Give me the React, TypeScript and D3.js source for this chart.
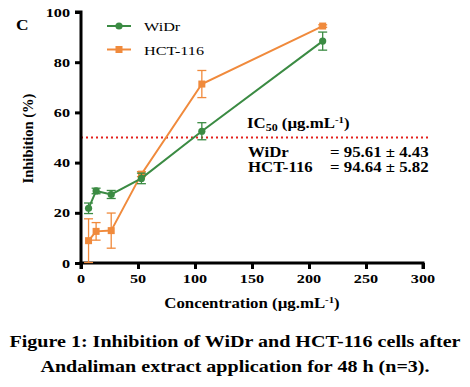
import React, { useEffect, useRef } from "react";
import * as d3 from "d3";

// concentrations (µg/mL)
const concentrations = [6.625, 13.25, 26.5, 53, 106, 212];
const widrMean = [21.8, 28.7, 27.3, 33.7, 52.5, 88.4];
const widrErr = [2.1, 1.1, 1.6, 2.1, 3.4, 3.6];
const hctMean = [8.9, 12.6, 12.9, 35.4, 71.3, 94.4];
const hctErr = [8.7, 3.5, 7.0, 1.0, 5.4, 0.5];
const xTicks = [0, 50, 100, 150, 200, 250, 300];
const yTicks = [0, 20, 40, 60, 80, 100];
const ic50Rows = [
    { name: "WiDr", value: "= 95.61 ± 4.43" },
    { name: "HCT-116", value: "= 94.64 ± 5.82" },
];
const caption = [
    "Figure 1: Inhibition of WiDr and HCT-116 cells after",
    "Andaliman extract application for 48 h (n=3).",
];

const GREEN = "#3b8b43";
const ORANGE = "#f08a3c";
const RED = "#e3211c";
const FONT = "'Liberation Serif', 'Times New Roman', serif";
const SX = 1.2; // the source picture is stretched sideways

const App = () => {
    const ref = useRef<SVGSVGElement | null>(null);

    useEffect(() => {
        const svg = d3.select(ref.current);
        svg.selectAll("*").remove();

        // text helper, stretched horizontally like the original
        const label = (px: number, py: number, size: number, anchor = "start", bold = true, sx = SX) =>
            svg.append("text")
                .attr("transform", `translate(${px},${py}) scale(${sx},1)`)
                .attr("text-anchor", anchor)
                .attr("fill", "#000")
                .style("font-family", FONT)
                .style("font-weight", bold ? "bold" : "normal")
                .style("font-size", size + "px");

        const x = d3.scaleLinear().domain([0, 300]).range([81, 423]);
        const y = d3.scaleLinear().domain([0, 100]).range([263, 12]);

        // reference line at 50 %
        svg.append("line")
            .attr("x1", x(0)).attr("x2", 431)
            .attr("y1", y(50)).attr("y2", y(50))
            .attr("stroke", RED)
            .attr("stroke-width", 2.2)
            .attr("stroke-dasharray", "2,3");

        // axes
        const yAxis = svg.append("g")
            .attr("transform", `translate(${x(0)},0)`)
            .call(d3.axisLeft(y).tickValues(yTicks).tickSize(6).tickFormat(() => ""));
        const xAxis = svg.append("g")
            .attr("transform", `translate(0,${y(0)})`)
            .call(d3.axisBottom(x).tickValues(xTicks).tickSize(6).tickFormat(() => ""));

        [xAxis, yAxis].forEach(g => {
            g.select(".domain").attr("stroke", "#000").attr("stroke-width", 3);
            g.selectAll(".tick line").attr("stroke", "#000").attr("stroke-width", 3);
        });
        yAxis.select(".domain").attr("d", `M-6,${y(100)}H0V${y(0)}`);
        xAxis.select(".domain").attr("d", `M${x(0)},6V0H${x(300)}V6`);

        // tick labels
        yTicks.forEach(t => label(70, y(t) + 4.5, 13.5, "end").text(String(t)));
        xTicks.forEach(t => label(x(t), 283, 13.5, "middle").text(String(t)));

        const drawSeries = (mean: number[], err: number[], color: string, square: boolean) => {
            const pts = concentrations.map((c, i) => ({ c, m: mean[i], e: err[i] }));
            const g = svg.append("g");
            // error bars
            pts.forEach(p => {
                const lo = Math.max(0, p.m - p.e);
                const hi = p.m + p.e;
                g.append("line")
                    .attr("x1", x(p.c)).attr("x2", x(p.c))
                    .attr("y1", y(lo)).attr("y2", y(hi))
                    .attr("stroke", color).attr("stroke-width", 1.3);
                g.append("line")
                    .attr("x1", x(p.c) - 4.5).attr("x2", x(p.c) + 4.5)
                    .attr("y1", y(hi)).attr("y2", y(hi))
                    .attr("stroke", color).attr("stroke-width", 1.3);
                if (p.m - p.e > 0) {
                    g.append("line")
                        .attr("x1", x(p.c) - 4.5).attr("x2", x(p.c) + 4.5)
                        .attr("y1", y(lo)).attr("y2", y(lo))
                        .attr("stroke", color).attr("stroke-width", 1.3);
                }
            });
            const line = d3.line<any>().x(d => x(d.c)).y(d => y(d.m));
            g.append("path")
                .datum(pts)
                .attr("d", line)
                .attr("fill", "none")
                .attr("stroke", color)
                .attr("stroke-width", 2);
            if (square) {
                g.selectAll("rect.pt").data(pts).enter().append("rect")
                    .attr("x", d => x(d.c) - 3.5).attr("y", d => y(d.m) - 3.5)
                    .attr("width", 7).attr("height", 7)
                    .attr("fill", color);
            } else {
                g.selectAll("circle.pt").data(pts).enter().append("circle")
                    .attr("cx", d => x(d.c)).attr("cy", d => y(d.m))
                    .attr("r", 3.6)
                    .attr("fill", color);
            }
        };

        drawSeries(hctMean, hctErr, ORANGE, true);
        drawSeries(widrMean, widrErr, GREEN, false);

        // legend
        const legend = [
            { label: "WiDr", color: GREEN, square: false, yy: 26 },
            { label: "HCT-116", color: ORANGE, square: true, yy: 49.5 },
        ];
        legend.forEach(l => {
            svg.append("line")
                .attr("x1", 107).attr("x2", 131)
                .attr("y1", l.yy).attr("y2", l.yy)
                .attr("stroke", l.color).attr("stroke-width", 2);
            if (l.square) {
                svg.append("rect").attr("x", 115.5).attr("y", l.yy - 3.5)
                    .attr("width", 7).attr("height", 7).attr("fill", l.color);
            } else {
                svg.append("circle").attr("cx", 119).attr("cy", l.yy).attr("r", 3.6).attr("fill", l.color);
            }
            label(144, l.yy + 5, 13.5, "start", false).text(l.label);
        });

        // panel letter
        label(16, 30, 14.5).text("C");

        // axis titles
        svg.append("text")
            .attr("transform", `translate(33,${y(50) + 1}) rotate(-90)`)
            .attr("text-anchor", "middle")
            .style("font-family", FONT).style("font-weight", "bold").style("font-size", "14.5px")
            .text("Inhibition (%)");

        const xt = label(x(150), 308, 14, "middle");
        xt.append("tspan").text("Concentration (µg.mL");
        xt.append("tspan").attr("dy", -5).style("font-size", "9px").text("-1");
        xt.append("tspan").attr("dy", 5).text(")");

        // IC50 annotation
        const ic = label(247, 128, 14);
        ic.append("tspan").text("IC");
        ic.append("tspan").attr("dy", 3).style("font-size", "10px").text("50");
        ic.append("tspan").attr("dy", -3).text(" (µg.mL");
        ic.append("tspan").attr("dy", -5).style("font-size", "9px").text("-1");
        ic.append("tspan").attr("dy", 5).text(")");

        ic50Rows.forEach((r, i) => {
            label(248, 156.5 + i * 15, 14).text(r.name);
            label(330, 156.5 + i * 15, 14).text(r.value);
        });

        // caption
        caption.forEach((c, i) => {
            label(235, 347 + i * 25, 17, "middle", true, 1.18).text(c);
        });
    }, []);

    return (
        <svg
            ref={ref}
            width={470}
            height={387}
            style={{ position: "absolute", left: 0, top: 0, background: "#fff" }}
        />
    );
};

export default App;
